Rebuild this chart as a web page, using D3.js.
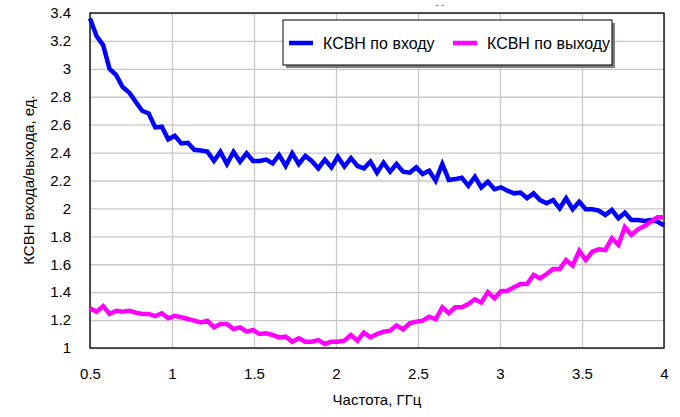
<!DOCTYPE html>
<html>
<head>
<meta charset="utf-8">
<script src="https://cdn.jsdelivr.net/npm/d3@7"></script>
<style>
  body { margin: 0; background: #fff; }
  text { font-family: "Liberation Sans", Arial, sans-serif; }
</style>
</head>
<body>
<script>
// frequency grid, GHz
var freq = [0.500, 0.540, 0.580, 0.619, 0.659, 0.699, 0.739, 0.778, 0.818, 0.858,
            0.898, 0.938, 0.977, 1.017, 1.057, 1.097, 1.136, 1.176, 1.216, 1.256,
            1.295, 1.335, 1.375, 1.415, 1.455, 1.494, 1.534, 1.574, 1.614, 1.653,
            1.693, 1.733, 1.773, 1.813, 1.852, 1.892, 1.932, 1.972, 2.011, 2.051,
            2.091, 2.131, 2.170, 2.210, 2.250, 2.290, 2.330, 2.369, 2.409, 2.449,
            2.489, 2.528, 2.568, 2.608, 2.648, 2.688, 2.727, 2.767, 2.807, 2.847,
            2.886, 2.926, 2.966, 3.006, 3.045, 3.085, 3.125, 3.165, 3.205, 3.244,
            3.284, 3.324, 3.364, 3.403, 3.443, 3.483, 3.523, 3.563, 3.602, 3.642,
            3.682, 3.722, 3.761, 3.801, 3.841, 3.881, 3.920, 3.960, 4.000];

// КСВН по входу
var vswrIn = [3.36, 3.235, 3.17, 3.00, 2.956, 2.87, 2.83, 2.765, 2.70, 2.68,
              2.58, 2.585, 2.495, 2.52, 2.466, 2.47, 2.42, 2.415, 2.407, 2.34,
              2.405, 2.318, 2.405, 2.335, 2.395, 2.34, 2.34, 2.35, 2.323, 2.383,
              2.304, 2.395, 2.318, 2.376, 2.34, 2.287, 2.35, 2.294, 2.37, 2.30,
              2.36, 2.304, 2.287, 2.335, 2.256, 2.328, 2.263, 2.318, 2.263, 2.256,
              2.294, 2.247, 2.27, 2.199, 2.318, 2.204, 2.21, 2.22, 2.162, 2.227,
              2.15, 2.192, 2.137, 2.151, 2.127, 2.108, 2.113, 2.073, 2.108, 2.06,
              2.037, 2.06, 2.001, 2.073, 1.994, 2.048, 1.994, 1.994, 1.984, 1.953,
              1.989, 1.929, 1.969, 1.917, 1.917, 1.91, 1.917, 1.905, 1.88];

// КСВН по выходу
var vswrOut = [1.285, 1.26, 1.30, 1.244, 1.267, 1.26, 1.267, 1.253, 1.244, 1.244,
               1.229, 1.249, 1.213, 1.231, 1.22, 1.208, 1.196, 1.184, 1.196, 1.148,
               1.172, 1.172, 1.136, 1.148, 1.117, 1.129, 1.10, 1.105, 1.093, 1.076,
               1.081, 1.045, 1.07, 1.045, 1.045, 1.057, 1.029, 1.045, 1.045, 1.052,
               1.093, 1.052, 1.11, 1.076, 1.10, 1.117, 1.124, 1.162, 1.133, 1.177,
               1.189, 1.196, 1.224, 1.206, 1.292, 1.249, 1.292, 1.292, 1.315, 1.349,
               1.325, 1.40, 1.356, 1.407, 1.41, 1.435, 1.458, 1.458, 1.523, 1.499,
               1.53, 1.566, 1.566, 1.63, 1.59, 1.697, 1.63, 1.69, 1.707, 1.702,
               1.786, 1.738, 1.865, 1.81, 1.85, 1.874, 1.905, 1.936, 1.936];

var xTicks = [0.5, 1, 1.5, 2, 2.5, 3, 3.5, 4];
var yTicks = [1, 1.2, 1.4, 1.6, 1.8, 2, 2.2, 2.4, 2.6, 2.8, 3, 3.2, 3.4];
var seriesNames = ["КСВН по входу", "КСВН по выходу"];
var seriesColors = ["#0000ff", "#ff00ff"];

var plotLeft = 90, plotRight = 664, plotTop = 13, plotBottom = 348;

var svg = d3.select("body").append("svg")
            .attr("width", 680)
            .attr("height", 417);

svg.append("rect")
   .attr("width", 680)
   .attr("height", 417)
   .attr("fill", "#fff");

var x = d3.scaleLinear().domain([0.5, 4]).range([plotLeft, plotRight]);
var y = d3.scaleLinear().domain([1, 3.4]).range([plotBottom, plotTop]);

// grid
svg.append("g")
   .attr("class", "grid")
   .attr("transform", "translate(0," + plotBottom + ")")
   .call(d3.axisBottom(x).tickValues(xTicks).tickSize(-(plotBottom - plotTop)).tickFormat(""));
svg.append("g")
   .attr("class", "grid")
   .attr("transform", "translate(" + plotLeft + ",0)")
   .call(d3.axisLeft(y).tickValues(yTicks).tickSize(-(plotRight - plotLeft)).tickFormat(""));
svg.selectAll(".grid .domain").remove();
svg.selectAll(".grid .tick line")
   .attr("stroke", "#c8c8c8")
   .attr("stroke-width", 1.3);

// tick labels
var axisX = svg.append("g")
               .attr("transform", "translate(0," + plotBottom + ")")
               .call(d3.axisBottom(x).tickValues(xTicks).tickSize(0).tickPadding(20).tickFormat(d3.format("~g")));
var axisY = svg.append("g")
               .attr("transform", "translate(" + plotLeft + ",0)")
               .call(d3.axisLeft(y).tickValues(yTicks).tickSize(0).tickPadding(19).tickFormat(d3.format("~g")));
axisX.select(".domain").remove();
axisY.select(".domain").remove();
svg.selectAll("g text")
   .attr("font-size", 15)
   .attr("font-family", "'Liberation Sans', Arial, sans-serif")
   .attr("fill", "#000");

// plot frame
svg.append("rect")
   .attr("x", plotLeft)
   .attr("y", plotTop)
   .attr("width", plotRight - plotLeft)
   .attr("height", plotBottom - plotTop)
   .attr("fill", "none")
   .attr("stroke", "#000")
   .attr("stroke-width", 1.3);

var line = d3.line()
             .x(function (d, i) { return x(freq[i]); })
             .y(function (d) { return y(d); });

svg.append("path")
   .attr("d", line(vswrIn))
   .attr("fill", "none")
   .attr("stroke", seriesColors[0])
   .attr("stroke-width", 4.5);

svg.append("path")
   .attr("d", line(vswrOut))
   .attr("fill", "none")
   .attr("stroke", seriesColors[1])
   .attr("stroke-width", 4.5);

// axis titles
svg.append("text")
   .attr("x", 377)
   .attr("y", 405)
   .attr("text-anchor", "middle")
   .attr("font-size", 15)
   .text("Частота, ГГц");

svg.append("text")
   .attr("transform", "translate(34,180) rotate(-90)")
   .attr("text-anchor", "middle")
   .attr("font-size", 15)
   .text("КСВН входа/выхода, ед.");

// clipped title remnant
svg.append("text")
   .attr("x", 440)
   .attr("y", 8)
   .attr("text-anchor", "middle")
   .attr("font-size", 9)
   .attr("fill", "#444")
   .text("- -");

// legend
svg.append("rect")
   .attr("x", 286)
   .attr("y", 23)
   .attr("width", 329)
   .attr("height", 45)
   .attr("fill", "#808080");
svg.append("rect")
   .attr("x", 283)
   .attr("y", 20)
   .attr("width", 329)
   .attr("height", 45)
   .attr("fill", "#fff")
   .attr("stroke", "#000")
   .attr("stroke-width", 1);

var legendX = [289, 453];
var legend = svg.selectAll(".legend")
                .data(seriesNames)
                .enter()
                .append("g")
                .attr("class", "legend");
legend.append("line")
      .attr("x1", function (d, i) { return legendX[i]; })
      .attr("x2", function (d, i) { return legendX[i] + 24; })
      .attr("y1", 43)
      .attr("y2", 43)
      .attr("stroke", function (d, i) { return seriesColors[i]; })
      .attr("stroke-width", 4.5);
legend.append("text")
      .attr("x", function (d, i) { return legendX[i] + 34; })
      .attr("y", 49)
      .attr("font-size", 16)
      .text(function (d) { return d; });
</script>
</body>
</html>
